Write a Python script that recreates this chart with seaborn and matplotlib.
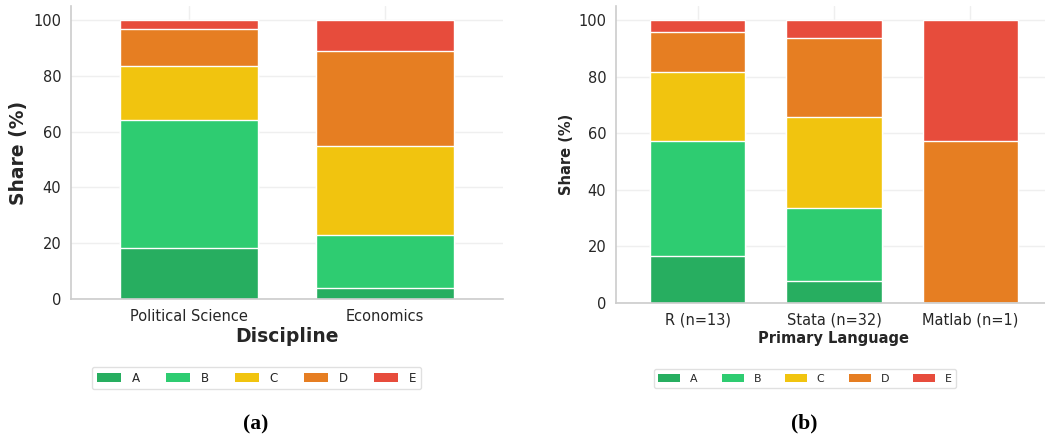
import matplotlib
matplotlib.use("Agg")
import matplotlib.pyplot as plt
from matplotlib.patches import Patch
import numpy as np
import pandas as pd
import seaborn as sns

# Response categories and their colours
levels = ["A", "B", "C", "D", "E"]
level_colors = ["#27ae60", "#2ecc71", "#f1c40f", "#e67e22", "#e74c3c"]

# Panel (a): share of responses by discipline (%)
disciplines = ["Political Science", "Economics"]
disc_A = [18.2, 3.8]
disc_B = [46.0, 19.3]
disc_C = [19.2, 31.9]
disc_D = [13.4, 34.0]
disc_E = [3.2, 11.0]

# Panel (b): share of responses by primary language (%)
languages = ["R (n=13)", "Stata (n=32)", "Matlab (n=1)"]
lang_A = [16.6, 7.7, 0.0]
lang_B = [40.7, 25.9, 0.0]
lang_C = [24.3, 32.2, 0.0]
lang_D = [14.2, 27.8, 57.1]
lang_E = [4.2, 6.4, 42.9]

sns.set_theme(style="whitegrid")
plt.rcParams["font.family"] = ["DejaVu Sans"]
plt.rcParams["grid.color"] = "#efefef"
plt.rcParams["axes.edgecolor"] = "#cccccc"

W, H = 1045, 438
fig = plt.figure(figsize=(W / 100, H / 100), dpi=100)


def frac(x0, x1, ytop, ybot):
    return [x0 / W, 1 - ybot / H, (x1 - x0) / W, (ybot - ytop) / H]


ax1 = fig.add_axes(frac(71, 503, 6, 299))
ax2 = fig.add_axes(frac(616, 1052, 6, 303))


def stacked(ax, cats, series, xlabel, label_size):
    df = pd.DataFrame(dict(zip(levels, series)), index=cats)
    cum = df.cumsum(axis=1)
    # draw running totals from the top segment down so each layer sits on the next
    for lvl, col in reversed(list(zip(levels, level_colors))):
        sns.barplot(x=cum.index, y=cum[lvl].values, ax=ax, color=col,
                    saturation=1, width=0.7, edgecolor="white",
                    linewidth=1.0, order=cats, zorder=2)
    ax.set_xlim(-0.6, len(cats) - 0.4)
    ax.set_ylim(0, 105)
    ax.set_yticks([0, 20, 40, 60, 80, 100])
    ax.tick_params(axis="both", labelsize=10.5, colors="#262626", pad=1)
    ax.set_xlabel(xlabel, fontsize=label_size, fontweight="bold", color="#262626")
    ax.set_ylabel("Share (%)", fontsize=label_size, fontweight="bold", color="#262626")
    ax.grid(True, axis="both", zorder=0)
    ax.set_axisbelow(True)
    sns.despine(ax=ax)
    for s in ("left", "bottom"):
        ax.spines[s].set_color("#cccccc")
        ax.spines[s].set_linewidth(1.2)


stacked(ax1, disciplines, [disc_A, disc_B, disc_C, disc_D, disc_E], "Discipline", 13.5)
stacked(ax2, languages, [lang_A, lang_B, lang_C, lang_D, lang_E], "Primary Language", 10.5)
ax1.xaxis.labelpad = 2
ax2.xaxis.labelpad = 2
ax1.yaxis.labelpad = 3.7
ax2.yaxis.labelpad = 3

handles = [Patch(facecolor=c, edgecolor="none", label=l) for l, c in zip(levels, level_colors)]
for cx, cy, fs in [(256.5, 378, 8.6), (805, 378.5, 7.9)]:
    leg = fig.legend(handles=handles, loc="center", ncol=5,
                     bbox_to_anchor=(cx / W, 1 - cy / H), fontsize=fs,
                     handlelength=2.0, handleheight=0.7, handletextpad=0.9,
                     columnspacing=2.2, frameon=True, fancybox=True,
                     edgecolor="#d9d9d9", borderpad=0.4)
    leg.get_frame().set_linewidth(1.0)
    for t in leg.get_texts():
        t.set_color("#262626")

fig.text(256 / W, 1 - 424 / H, "(a)", ha="center", va="center",
         fontsize=15.5, fontweight="bold", family="Liberation Serif", color="black")
fig.text(804 / W, 1 - 423 / H, "(b)", ha="center", va="center",
         fontsize=15.5, fontweight="bold", family="Liberation Serif", color="black")

fig.savefig("out.png", dpi=100)
